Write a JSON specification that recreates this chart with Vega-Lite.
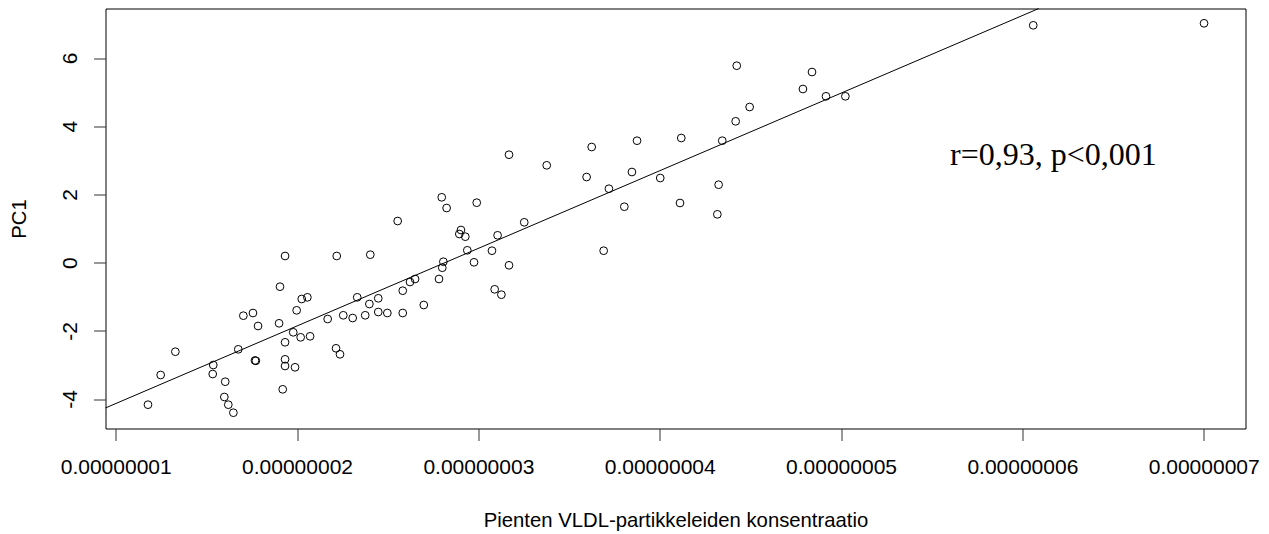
{
  "$schema": "https://vega.github.io/schema/vega-lite/v6.json",
  "width": 1140,
  "height": 420,
  "autosize": {"type": "none"},
  "padding": {"left": 105.5, "top": 8.5, "right": 23.5, "bottom": 105.5},
  "background": "white",
  "config": {
    "view": {"stroke": "black", "strokeWidth": 1},
    "font": "Liberation Sans"
  },
  "datasets": {
    "points": [
      {"x": 1.178e-8, "y": -4.167},
      {"x": 1.248e-8, "y": -3.296},
      {"x": 1.329e-8, "y": -2.613},
      {"x": 1.535e-8, "y": -3.267},
      {"x": 1.538e-8, "y": -3.003},
      {"x": 1.599e-8, "y": -3.941},
      {"x": 1.621e-8, "y": -4.167},
      {"x": 1.649e-8, "y": -4.402},
      {"x": 1.604e-8, "y": -3.493},
      {"x": 1.676e-8, "y": -2.543},
      {"x": 1.704e-8, "y": -1.557},
      {"x": 1.757e-8, "y": -1.478},
      {"x": 1.785e-8, "y": -1.859},
      {"x": 1.768e-8, "y": -2.870},
      {"x": 1.773e-8, "y": -2.880},
      {"x": 1.901e-8, "y": -1.780},
      {"x": 1.906e-8, "y": -0.707},
      {"x": 1.934e-8, "y": 0.194},
      {"x": 1.934e-8, "y": -2.337},
      {"x": 1.934e-8, "y": -2.836},
      {"x": 1.934e-8, "y": -3.032},
      {"x": 1.921e-8, "y": -3.716},
      {"x": 1.979e-8, "y": -2.044},
      {"x": 1.989e-8, "y": -3.070},
      {"x": 1.998e-8, "y": -1.399},
      {"x": 2.020e-8, "y": -2.191},
      {"x": 2.026e-8, "y": -1.067},
      {"x": 2.057e-8, "y": -1.018},
      {"x": 2.072e-8, "y": -2.161},
      {"x": 2.169e-8, "y": -1.654},
      {"x": 2.219e-8, "y": 0.194},
      {"x": 2.215e-8, "y": -2.513},
      {"x": 2.237e-8, "y": -2.689},
      {"x": 2.255e-8, "y": -1.545},
      {"x": 2.307e-8, "y": -1.625},
      {"x": 2.332e-8, "y": -1.018},
      {"x": 2.376e-8, "y": -1.545},
      {"x": 2.399e-8, "y": -1.214},
      {"x": 2.404e-8, "y": 0.232},
      {"x": 2.448e-8, "y": -1.047},
      {"x": 2.448e-8, "y": -1.449},
      {"x": 2.498e-8, "y": -1.478},
      {"x": 2.555e-8, "y": 1.220},
      {"x": 2.583e-8, "y": -0.824},
      {"x": 2.583e-8, "y": -1.478},
      {"x": 2.623e-8, "y": -0.569},
      {"x": 2.651e-8, "y": -0.481},
      {"x": 2.699e-8, "y": -1.243},
      {"x": 2.783e-8, "y": -0.481},
      {"x": 2.798e-8, "y": 1.915},
      {"x": 2.801e-8, "y": -0.150},
      {"x": 2.807e-8, "y": 0.026},
      {"x": 2.825e-8, "y": 1.601},
      {"x": 2.895e-8, "y": 0.839},
      {"x": 2.904e-8, "y": 0.956},
      {"x": 2.928e-8, "y": 0.760},
      {"x": 2.939e-8, "y": 0.361},
      {"x": 2.976e-8, "y": 0.009},
      {"x": 2.991e-8, "y": 1.757},
      {"x": 3.075e-8, "y": 0.349},
      {"x": 3.090e-8, "y": -0.783},
      {"x": 3.106e-8, "y": 0.801},
      {"x": 3.127e-8, "y": -0.941},
      {"x": 3.169e-8, "y": -0.079},
      {"x": 3.169e-8, "y": 3.164},
      {"x": 3.253e-8, "y": 1.182},
      {"x": 3.377e-8, "y": 2.853},
      {"x": 3.597e-8, "y": 2.510},
      {"x": 3.625e-8, "y": 3.390},
      {"x": 3.691e-8, "y": 0.349},
      {"x": 3.720e-8, "y": 2.167},
      {"x": 3.805e-8, "y": 1.639},
      {"x": 3.847e-8, "y": 2.657},
      {"x": 3.875e-8, "y": 3.575},
      {"x": 4.003e-8, "y": 2.481},
      {"x": 4.112e-8, "y": 1.748},
      {"x": 4.119e-8, "y": 3.654},
      {"x": 4.318e-8, "y": 1.416},
      {"x": 4.325e-8, "y": 2.284},
      {"x": 4.345e-8, "y": 3.575},
      {"x": 4.419e-8, "y": 4.144},
      {"x": 4.425e-8, "y": 5.774},
      {"x": 4.496e-8, "y": 4.563},
      {"x": 4.790e-8, "y": 5.091},
      {"x": 4.840e-8, "y": 5.589},
      {"x": 4.917e-8, "y": 4.877},
      {"x": 5.024e-8, "y": 4.877},
      {"x": 6.060e-8, "y": 6.959},
      {"x": 7.002e-8, "y": 7.018}
    ],
    "fit": [
      {"x": 0.94375e-8, "y": -4.262},
      {"x": 6.090e-8, "y": 7.45}
    ],
    "note": [
      {"x": 5.601e-8, "y": 2.86, "label": "r=0,93, p<0,001"}
    ]
  },
  "layer": [
    {
      "data": {"name": "fit"},
      "mark": {"type": "line", "color": "black", "strokeWidth": 1},
      "encoding": {
        "x": {"field": "x", "type": "quantitative"},
        "y": {"field": "y", "type": "quantitative"}
      }
    },
    {
      "data": {"name": "points"},
      "mark": {"type": "point", "shape": "circle", "filled": false, "stroke": "black", "strokeWidth": 1, "size": 60, "opacity": 1},
      "encoding": {
        "x": {
          "field": "x",
          "type": "quantitative",
          "scale": {"domain": [0.94375e-8, 7.2306e-8], "nice": false, "zero": false},
          "axis": {
            "title": "Pienten VLDL-partikkeleiden konsentraatio",
            "values": [1e-8, 2e-8, 3e-8, 4e-8, 5e-8, 6e-8, 7e-8],
            "format": ".8f",
            "grid": false,
            "domain": false,
            "ticks": true,
            "tickSize": 12,
            "tickColor": "#333333",
            "tickWidth": 1,
            "labelFont": "Liberation Sans",
            "labelFontSize": 21,
            "labelColor": "black",
            "labelBaseline": "alphabetic",
            "labelPadding": 33,
            "labelFlush": false,
            "labelOverlap": false,
            "titleFont": "Liberation Sans",
            "titleFontSize": 20.3,
            "titleFontWeight": "normal",
            "titleColor": "black",
            "titleBaseline": "alphabetic",
            "titleY": 98,
            "titleX": 570
          }
        },
        "y": {
          "field": "y",
          "type": "quantitative",
          "scale": {"domain": [-4.865, 7.452], "nice": false, "zero": false},
          "axis": {
            "title": "PC1",
            "values": [-4, -2, 0, 2, 4, 6],
            "labelExpr": "datum.value + ''",
            "grid": false,
            "domain": false,
            "ticks": true,
            "tickSize": 12,
            "tickColor": "#333333",
            "tickWidth": 1,
            "labelAngle": -90,
            "labelAlign": "center",
            "labelBaseline": "alphabetic",
            "labelPadding": 17,
            "labelFont": "Liberation Sans",
            "labelFontSize": 21,
            "labelColor": "black",
            "labelFlush": false,
            "labelOverlap": false,
            "titleFont": "Liberation Sans",
            "titleFontSize": 20.3,
            "titleFontWeight": "normal",
            "titleColor": "black",
            "titleAngle": -90,
            "titleAlign": "center",
            "titleBaseline": "alphabetic",
            "titleX": -80,
            "titleY": 210
          }
        }
      }
    },
    {
      "data": {"name": "note"},
      "mark": {"type": "text", "font": "Liberation Serif", "fontSize": 32, "align": "left", "baseline": "alphabetic", "color": "black"},
      "encoding": {
        "x": {"field": "x", "type": "quantitative"},
        "y": {"field": "y", "type": "quantitative"},
        "text": {"field": "label"}
      }
    }
  ]
}
